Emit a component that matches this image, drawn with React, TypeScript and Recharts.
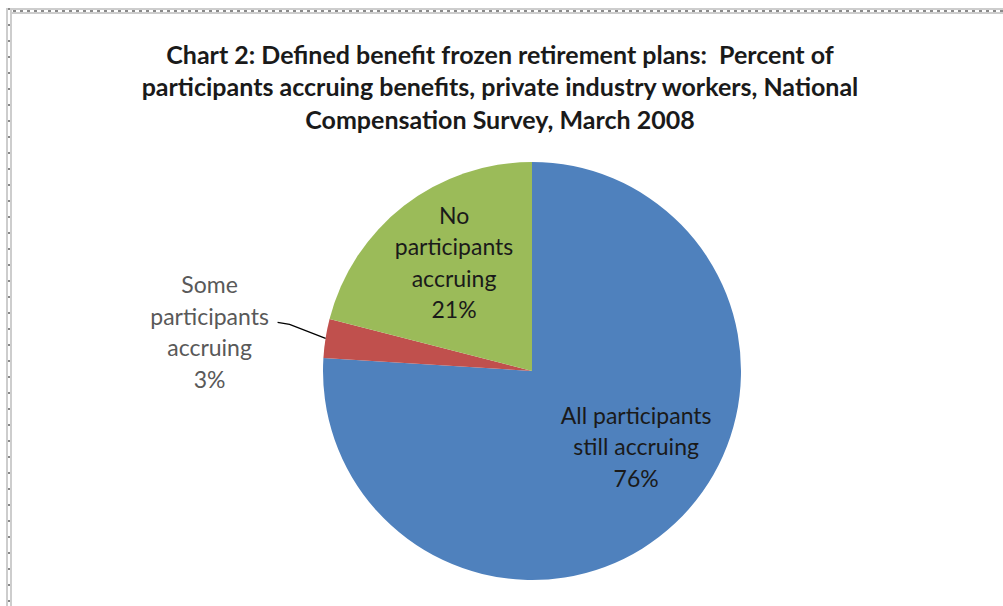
import { PieChart, Pie, Cell } from 'recharts'

const titleLines = [
  'Chart 2: Defined benefit frozen retirement plans:  Percent of',
  'participants accruing benefits, private industry workers, National',
  'Compensation Survey, March 2008',
]

const categories = ['All participants still accruing', 'Some participants accruing', 'No participants accruing']
const labelLines = [
  ['All participants', 'still accruing'],
  ['Some', 'participants', 'accruing'],
  ['No', 'participants', 'accruing'],
]
const percents = [76, 3, 21]
const colors = ['#4F81BD', '#C0504D', '#9BBB59']

const data = categories.map((name, i) => ({ name, value: percents[i], lines: labelLines[i] }))

const RAD = Math.PI / 180
const LINE_H = 31.5
const FONT = 'Lato, "Open Sans", sans-serif'
const LABEL_SIZE = 23

// inside labels: radius factor and a small angle nudge off the slice's mid angle
const radiusFactor = [0.62, 1, 0.633]
const angleNudge = [10.3, 0, -1.7]

function SliceLabel(props: any) {
  const { cx, cy, midAngle, outerRadius, index, payload, value } = props
  const lines: string[] = [...payload.lines, `${value}%`]

  if (index === 1) {
    // small slice: label outside on the left, with a leader line
    const ex = cx + outerRadius * Math.cos(-midAngle * RAD)
    const ey = cy + outerRadius * Math.sin(-midAngle * RAD)
    const bx = ex - 48
    const by = ey - 16
    const tx = bx - 68
    const top = by - 29
    return (
      <g>
        <path d={`M${ex},${ey} L${bx + 12},${by + 2} L${bx},${by}`} stroke="#000" strokeWidth={1.3} fill="none" />
        <text x={tx} y={top} textAnchor="middle" fill="#595959" fontFamily={FONT} fontSize={LABEL_SIZE}>
          {lines.map((l, i) => (
            <tspan key={i} x={tx} dy={i === 0 ? 0 : LINE_H}>{l}</tspan>
          ))}
        </text>
      </g>
    )
  }

  const a = (midAngle + angleNudge[index]) * RAD
  const r = outerRadius * radiusFactor[index]
  const x = cx + r * Math.cos(-a)
  const y = cy + r * Math.sin(-a)
  const top = y - ((lines.length - 1) * LINE_H) / 2 + 7
  return (
    <text x={x} y={top} textAnchor="middle" fill="#1a1a1a" fontFamily={FONT} fontSize={LABEL_SIZE}>
      {lines.map((l, i) => (
        <tspan key={i} x={x} dy={i === 0 ? 0 : LINE_H}>{l}</tspan>
      ))}
    </text>
  )
}

const strip = '#cdcdcd'

export default function App() {
  return (
    <div style={{ position: 'fixed', left: 0, top: 0, width: 1003, height: 606, background: '#fff', overflow: 'hidden' }}>
      {/* frame: top and left edges */}
      <div
        style={{
          position: 'absolute', left: 6, top: 8, width: 1010, height: 2,
          borderTop: `2px solid ${strip}`, borderBottom: `2px solid ${strip}`,
          background: 'repeating-linear-gradient(90deg, #8a8a8a 0 3px, #fff 3px 7px)',
        }}
      />
      <div
        style={{
          position: 'absolute', left: 6, top: 8, width: 2, height: 610,
          borderLeft: `2px solid ${strip}`, borderRight: `2px solid ${strip}`,
          background: 'repeating-linear-gradient(180deg, #8a8a8a 0 2px, #fff 2px 16px)',
        }}
      />
      <div
        style={{
          position: 'absolute', left: 0, top: 37.5, width: 1000, textAlign: 'center',
          fontFamily: FONT, fontWeight: 700, fontSize: 25, lineHeight: '32.5px', color: '#1a1a1a',
        }}
      >
        {titleLines.map((t, i) => (
          <div key={i} style={{ whiteSpace: 'pre' }}>{t}</div>
        ))}
      </div>
      <div style={{ position: 'absolute', left: 0, top: 0 }}>
        <PieChart width={1003} height={606} margin={{ top: 0, right: 0, bottom: 0, left: 0 }}>
          <Pie
            data={data}
            dataKey="value"
            nameKey="name"
            cx={532}
            cy={371}
            outerRadius={209}
            startAngle={90}
            endAngle={-270}
            stroke="none"
            label={SliceLabel}
            labelLine={false}
            isAnimationActive={false}
          >
            {data.map((d, i) => (
              <Cell key={d.name} fill={colors[i]} />
            ))}
          </Pie>
        </PieChart>
      </div>
    </div>
  )
}
